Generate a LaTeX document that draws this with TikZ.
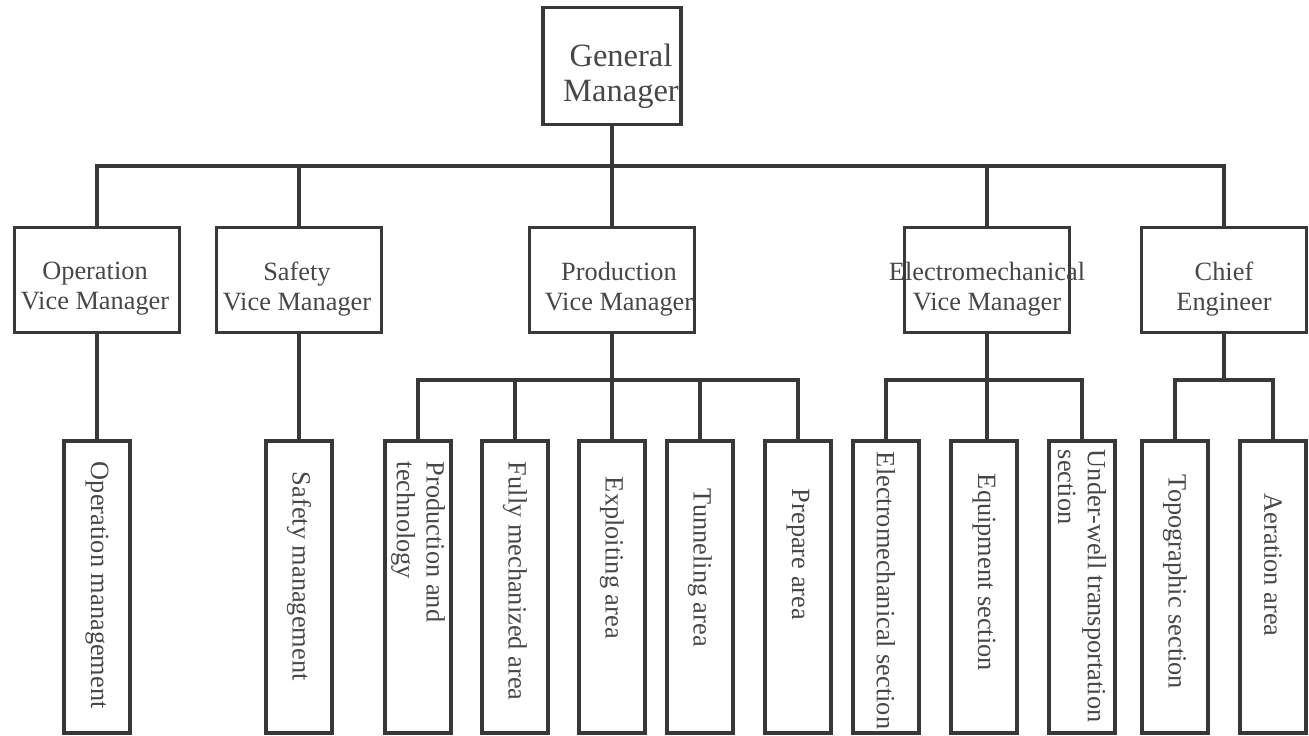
\documentclass[tikz,border=0pt]{standalone}
\usepackage{fontspec}
\setmainfont{Liberation Serif}

\tikzstyle{head}=[draw,rectangle,minimum width=2.76cm,minimum height=2.34cm]
\tikzstyle{vice}=[draw,rectangle,minimum width=3.3cm,minimum height=2.1cm]
\tikzstyle{leaf}=[draw,rectangle,minimum width=1.32cm,minimum height=5.84cm]
\tikzstyle{title}=[align=center,inner sep=0pt,text=black!72,font=\fontsize{15}{17}\selectfont]
\tikzstyle{vtext}=[rotate=-90,anchor=west,align=left,inner sep=0pt,text=black!72,font=\fontsize{15}{17}\selectfont]

\begin{document}
\begin{tikzpicture}[x=0.02cm,y=-0.02cm,line width=2.2pt,color=black!78]

\useasboundingbox (0,0) rectangle (1309,735);

% top
\node[head] (gm) at (612,66) {};
\node[title,font=\fontsize{18.5}{20}\selectfont] (gm-t) at ([xshift=0.18cm,yshift=-0.2cm]gm.center) {General\\Manager};

% vice managers
\node[vice] (opv) at (97,280) {};
\node[vice] (sfv) at (299,280) {};
\node[vice] (prv) at (612,280) {};
\node[vice] (elv) at (987,280) {};
\node[vice] (chf) at (1224,280) {};

\node[title] (opv-t) at ([xshift=-0.04cm,yshift=-0.18cm]opv.center) {Operation\\Vice Manager};
\node[title] (sfv-t) at ([xshift=-0.04cm,yshift=-0.18cm]sfv.center) {Safety\\Vice Manager};
\node[title] (prv-t) at ([xshift=0.14cm,yshift=-0.18cm]prv.center) {Production\\Vice Manager};
\node[title] (elv-t) at ([yshift=-0.18cm]elv.center) {Electromechanical\\Vice Manager};
\node[title] (chf-t) at ([yshift=-0.18cm]chf.center) {Chief\\Engineer};

% departments
\node[leaf] (opm) at (97,587) {};
\node[leaf] (sfm) at (299,587) {};
\node[leaf] (ptc) at (418,587) {};
\node[leaf] (fma) at (515,587) {};
\node[leaf] (exa) at (612,587) {};
\node[leaf] (tun) at (700,587) {};
\node[leaf] (pre) at (798,587) {};
\node[leaf] (els) at (886,587) {};
\node[leaf] (eqs) at (984,587) {};
\node[leaf] (uws) at (1082,587) {};
\node[leaf] (tps) at (1175,587) {};
\node[leaf] (aer) at (1273,587) {};

\node[vtext] (opm-t) at (opm.north |- 0,460) {Operation management};
\node[vtext] (sfm-t) at (sfm.north |- 0,470) {Safety management};
\node[vtext] (ptc-t) at (ptc.north |- 0,460) {Production and\\technology};
\node[vtext] (fma-t) at (fma.north |- 0,460) {Fully mechanized area};
\node[vtext] (exa-t) at (exa.north |- 0,475) {Exploiting area};
\node[vtext] (tun-t) at (tun.north |- 0,487) {Tunneling area};
\node[vtext] (pre-t) at (pre.north |- 0,487) {Prepare area};
\node[vtext] (els-t) at (els.north |- 0,450) {Electromechanical section};
\node[vtext] (eqs-t) at (eqs.north |- 0,472) {Equipment section};
\node[vtext] (uws-t) at (uws.north |- 0,448) {Under-well transportation\\section};
\node[vtext] (tps-t) at (tps.north |- 0,473) {Topographic section};
\node[vtext] (aer-t) at (aer.north |- 0,492) {Aeration area};

% connectors
\coordinate (bus) at (612,166);
\draw (opv.north) |- (bus) -| (chf.north);
\draw (gm) -- (prv);
\draw (sfv.north) -- (sfv.north |- bus);
\draw (elv.north) -- (elv.north |- bus);

\draw (opv) -- (opm);
\draw (sfv) -- (sfm);

\coordinate (pbus) at (612,380);
\draw (ptc.north) |- (pbus) -| (pre.north);
\draw (prv) -- (exa);
\draw (fma.north) -- (fma.north |- pbus);
\draw (tun.north) -- (tun.north |- pbus);

\coordinate (ebus) at (987,380);
\draw (els.north) |- (ebus) -| (uws.north);
\draw (elv.south) -- (elv.south |- eqs.north);

\coordinate (cbus) at (1224,380);
\draw (tps.north) |- (cbus) -| (aer.north);
\draw (chf) -- (cbus);

\end{tikzpicture}
\end{document}
